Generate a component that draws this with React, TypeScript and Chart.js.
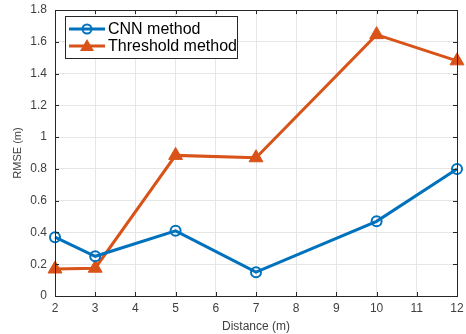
import React, { useEffect, useRef } from "react";
import { Chart, registerables } from "chart.js";

Chart.register(...registerables);

const distances = [2, 3, 5, 7, 10, 12];
const cnnValues = [0.37, 0.25, 0.41, 0.15, 0.47, 0.8];
const thresholdValues = [0.17, 0.175, 0.885, 0.87, 1.645, 1.48];
const seriesNames = ["CNN method", "Threshold method"];
const seriesColors = ["#0072BD", "#D95319"];
const xTitle = "Distance (m)";
const yTitle = "RMSE (m)";

const FONT = "'Liberation Sans', Arial, sans-serif";

const boxPlugin = {
  id: "matlabBox",
  afterDatasetsDraw(chart: any) {
    const { ctx, chartArea: a, scales } = chart;
    ctx.save();
    ctx.strokeStyle = "#262626";
    ctx.lineWidth = 1;
    ctx.strokeRect(Math.round(a.left) + 0.5, Math.round(a.top) + 0.5, Math.round(a.right - a.left), Math.round(a.bottom - a.top));
    const tl = 4;
    ctx.beginPath();
    scales.x.ticks.forEach((t: any) => {
      const x = Math.round(scales.x.getPixelForValue(t.value)) + 0.5;
      ctx.moveTo(x, a.bottom); ctx.lineTo(x, a.bottom - tl);
      ctx.moveTo(x, a.top); ctx.lineTo(x, a.top + tl);
    });
    scales.y.ticks.forEach((t: any) => {
      const y = Math.round(scales.y.getPixelForValue(t.value)) + 0.5;
      ctx.moveTo(a.left, y); ctx.lineTo(a.left + tl, y);
      ctx.moveTo(a.right, y); ctx.lineTo(a.right - tl, y);
    });
    ctx.stroke();

    // legend
    const lx = 65, ly = 16, lw = 172, lh = 42;
    ctx.fillStyle = "#ffffff";
    ctx.fillRect(lx, ly, lw, lh);
    ctx.strokeStyle = "#262626";
    ctx.strokeRect(lx + 0.5, ly + 0.5, lw, lh);
    ctx.font = `16px ${FONT}`;
    ctx.textBaseline = "middle";
    seriesNames.forEach((name, i) => {
      const y = ly + 13 + i * 17;
      ctx.strokeStyle = seriesColors[i];
      ctx.lineWidth = 3;
      ctx.beginPath();
      ctx.moveTo(69, y); ctx.lineTo(105, y);
      ctx.stroke();
      if (i === 0) {
        ctx.lineWidth = 2;
        ctx.beginPath();
        ctx.arc(87, y, 4.5, 0, Math.PI * 2);
        ctx.stroke();
      } else {
        ctx.fillStyle = seriesColors[i];
        ctx.beginPath();
        ctx.moveTo(87, y - 7);
        ctx.lineTo(94, y + 5);
        ctx.lineTo(80, y + 5);
        ctx.closePath();
        ctx.fill();
      }
      ctx.fillStyle = "#000000";
      ctx.fillText(name, 108, y + 1);
    });
    ctx.restore();
  },
};

export default function App() {
  const ref = useRef<HTMLCanvasElement>(null);
  useEffect(() => {
    document.body.style.margin = "0";
    const chart = new Chart(ref.current!, {
      type: "line",
      data: {
        datasets: [
          {
            label: seriesNames[0],
            data: distances.map((d, i) => ({ x: d, y: cnnValues[i] })),
            borderColor: seriesColors[0],
            backgroundColor: "rgba(0,0,0,0)",
            borderWidth: 3,
            pointRadius: 5,
            pointBorderWidth: 2,
            pointStyle: "circle",
            pointBackgroundColor: "rgba(0,0,0,0)",
            pointBorderColor: seriesColors[0],
          },
          {
            label: seriesNames[1],
            data: distances.map((d, i) => ({ x: d, y: thresholdValues[i] })),
            borderColor: seriesColors[1],
            backgroundColor: seriesColors[1],
            borderWidth: 3,
            pointRadius: 8,
            pointBorderWidth: 1,
            pointStyle: "triangle",
            pointBackgroundColor: seriesColors[1],
            pointBorderColor: seriesColors[1],
          },
        ],
      },
      options: {
        responsive: false,
        animation: false,
        clip: false as any,
        layout: { padding: { left: 11, top: 10, right: 9, bottom: 0 } },
        plugins: { legend: { display: false }, tooltip: { enabled: false } },
        scales: {
          x: {
            type: "linear",
            min: 2,
            max: 12,
            ticks: { stepSize: 1, color: "#404040", font: { family: FONT, size: 12 }, padding: 5, maxRotation: 0 },
            grid: { color: "#e6e6e6", drawTicks: false },
            border: { display: false },
            title: { display: true, text: xTitle, color: "#404040", font: { family: FONT, size: 12 }, padding: { top: 1, bottom: 0 } },
            afterFit(s: any) { s.height = 38; s.paddingLeft = 0; s.paddingRight = 0; },
          },
          y: {
            type: "linear",
            min: 0,
            max: 1.8,
            ticks: { stepSize: 0.2, color: "#404040", font: { family: FONT, size: 12 }, padding: 8,
              callback: (v: any) => String(Math.round(v * 10) / 10) },
            grid: { color: "#e6e6e6", drawTicks: false },
            border: { display: false },
            title: { display: true, text: yTitle, color: "#404040", font: { family: FONT, size: 11 }, padding: { top: 0, bottom: 2 } },
            afterFit(s: any) { s.width = 44; s.paddingTop = 0; s.paddingBottom = 0; },
          },
        },
      },
      plugins: [boxPlugin],
    });
    return () => chart.destroy();
  }, []);
  return <canvas ref={ref} width={466} height={334} style={{ display: "block" }} />;
}
